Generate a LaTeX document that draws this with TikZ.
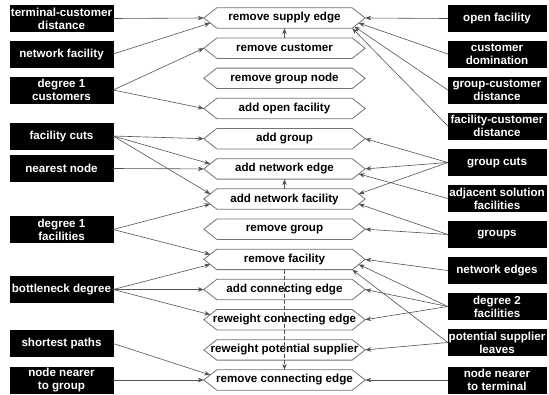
\documentclass[tikz,border=0pt]{standalone}
\usepackage{fontspec}
\setmainfont{Liberation Sans}
\usetikzlibrary{arrows.meta,calc}
\begin{document}
\begin{tikzpicture}[x=1pt,y=-1pt,
  lbl/.style={font=\fontsize{11.6}{13}\selectfont\bfseries},
  src/.style={lbl, fill=black, text=white, draw=black, minimum height=26pt, inner sep=0pt, align=center},
  lsrc/.style={src, minimum width=103pt},
  rsrc/.style={src, minimum width=98pt},
  hexn/.style={lbl, minimum width=161pt, minimum height=20pt, inner sep=0pt},
  hexline/.style={draw=black!55, line width=0.8pt},
  conn/.style={draw=black!68, line width=0.6pt, -{Stealth[length=6pt,width=4.5pt]}},
]
\useasboundingbox (0,0) rectangle (549,394);
% central operations
\node[hexn] (rse)  at (284.5,18.0)  {remove supply edge};
\node[hexn] (rc)   at (284.5,48.2)  {remove customer};
\node[hexn] (rgn)  at (284.5,78.3)  {remove group node};
\node[hexn] (aof)  at (284.5,108.5) {add open facility};
\node[hexn] (ag)   at (284.5,138.7) {add group};
\node[hexn] (ane)  at (284.5,168.9) {add network edge};
\node[hexn] (anf)  at (284.5,199.0) {add network facility};
\node[hexn] (rg)   at (284.5,229.2) {remove group};
\node[hexn] (rf)   at (284.5,259.4) {remove facility};
\node[hexn] (ace)  at (284.5,289.5) {add connecting edge};
\node[hexn] (rce)  at (284.5,319.7) {reweight connecting edge};
\node[hexn] (rps)  at (284.5,349.9) {reweight potential supplier};
\node[hexn] (rmce) at (284.5,380.0) {remove connecting edge};
\foreach \n in {rse,rc,rgn,aof,ag,ane,anf,rg,rf,ace,rce,rps,rmce} {
  \draw[hexline] (\n.west) -- ($(\n.north west)+(13,0)$) -- ($(\n.north east)+(-13,0)$)
    -- (\n.east) -- ($(\n.south east)+(-13,0)$) -- ($(\n.south west)+(13,0)$) -- cycle;
  \coordinate (\n-ul) at ($(\n.west)+(6.5,-5)$);
  \coordinate (\n-ll) at ($(\n.west)+(6.5,5)$);
  \coordinate (\n-ur) at ($(\n.east)+(-6.5,-5)$);
  \coordinate (\n-lr) at ($(\n.east)+(-6.5,5)$);
  \coordinate (\n-lr2) at ($(\n.east)+(-11,8.5)$);
  \coordinate (\n-br) at ($(\n.south east)+(-13,0)$);
}
% left sources
\node[lsrc] (ltcd) at (61.5,18.5) {terminal-customer\\distance};
\node[lsrc] (lnf)  at (61.5,54.0) {network facility};
\node[lsrc] (ld1c) at (61.5,90.0) {degree 1\\customers};
\node[lsrc] (lfc)  at (61.5,136.0) {facility cuts};
\node[lsrc] (lnn)  at (61.5,168.5) {nearest node};
\node[lsrc] (ld1f) at (61.5,229.5) {degree 1\\facilities};
\node[lsrc] (lbd)  at (61.5,289.5) {bottleneck degree};
\node[lsrc] (lsp)  at (61.5,343.5) {shortest paths};
\node[lsrc] (lnng) at (61.5,380.0) {node nearer\\to group};
% right sources
\node[rsrc] (ropen) at (497,18.5)  {open facility};
\node[rsrc] (rcd)   at (497,54.0)  {customer\\domination};
\node[rsrc] (rgcd)  at (497,90.0)  {group-customer\\distance};
\node[rsrc] (rfcd)  at (497,126.0) {facility-customer\\distance};
\node[rsrc] (rgc)   at (497,162.5) {group cuts};
\node[rsrc] (rasf)  at (497,198.5) {adjacent solution\\facilities};
\node[rsrc] (rgr)   at (497,234.5) {groups};
\node[rsrc] (rne)   at (497,270.5) {network edges};
\node[rsrc] (rd2f)  at (497,306.5) {degree 2\\facilities};
\node[rsrc] (rpsl)  at (497,342.5) {potential supplier\\leaves};
\node[rsrc] (rnnt)  at (497,380.0) {node nearer\\to terminal};
% left connectors
\draw[conn] (ltcd.east) -- (rse.west);
\draw[conn] (lnf.east) -- (rse-ll);
\draw[conn] (ld1c.east) -- (rc.west);
\draw[conn] (ld1c.east) -- (aof.west);
\draw[conn] (lfc.east) -- (ag.west);
\draw[conn] (lfc.east) -- (ane-ul);
\draw[conn] (lfc.east) -- (anf-ul);
\draw[conn] (lnn.east) -- (ane.west);
\draw[conn] (ld1f.east) -- (anf-ll);
\draw[conn] (ld1f.east) -- (rf-ul);
\draw[conn] (lbd.east) -- (rf-ll);
\draw[conn] (lbd.east) -- (ace.west);
\draw[conn] (lbd.east) -- (rce-ul);
\draw[conn] (lsp.east) -- (rmce-ul);
\draw[conn] (lnng.east) -- (rmce.west);
% right connectors
\draw[conn] (ropen.west) -- (rse.east);
\draw[conn] (rcd.west) -- (rse-lr);
\draw[conn] (rgcd.west) -- (rse-lr2);
\draw[conn] (rfcd.west) -- (rse-br);
\draw[conn] (rgc.west) -- (ag.east);
\draw[conn] (rgc.west) -- (ane.east);
\draw[conn] (rgc.west) -- (anf-ur);
\draw[conn] (rasf.west) -- (ane-lr);
\draw[conn] (rgr.west) -- (anf-lr);
\draw[conn] (rgr.west) -- (rg.east);
\draw[conn] (rne.west) -- (rf.east);
\draw[conn] (rd2f.west) -- (rf-lr);
\draw[conn] (rd2f.west) -- (ace.east);
\draw[conn] (rd2f.west) -- (rce.east);
\draw[conn] (rpsl.west) -- (rf-br);
\draw[conn] (rpsl.west) -- (rps.east);
\draw[conn] (rnnt.west) -- (rmce.east);
% internal connectors
\draw[conn] (rc.north) -- (rse.south);
\draw[conn] (anf.north) -- (ane.south);
\draw[conn, dash pattern=on 4pt off 2pt] (rf.south) -- (rmce.north);
\end{tikzpicture}
\end{document}
